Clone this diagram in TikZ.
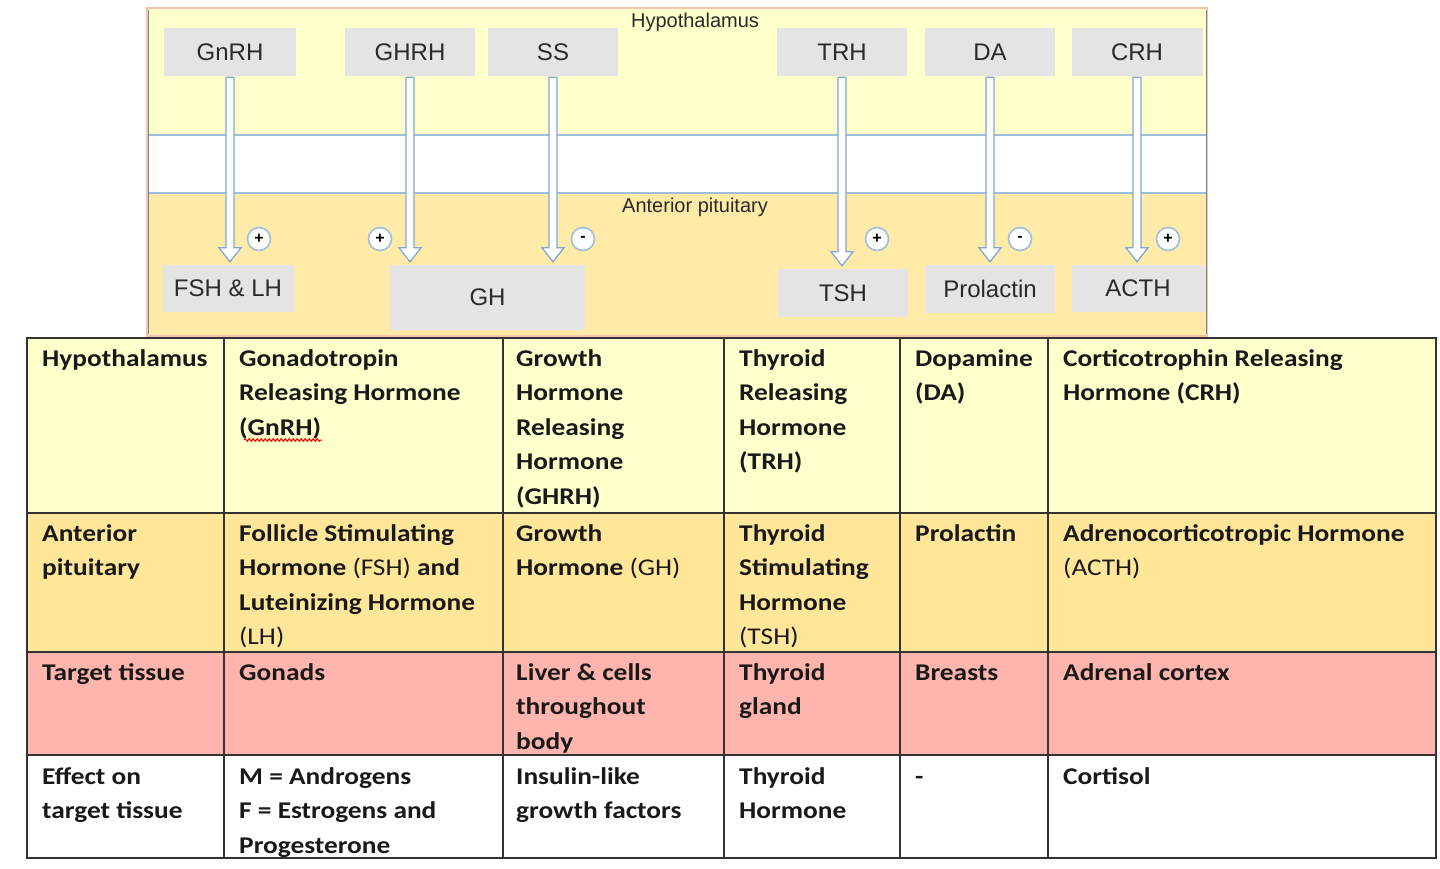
\documentclass[tikz,border=0pt]{standalone}
\usepackage{fontspec}
\setmainfont{Liberation Sans}
\newfontfamily\tabfont[FakeStretch=1.14]{Carlito}
\usetikzlibrary{calc,decorations.pathmorphing}
\definecolor{hyel}{HTML}{FFFFCC}
\definecolor{aorg}{HTML}{FFE699}
\definecolor{tpink}{HTML}{FFB5AE}
\definecolor{gboxc}{HTML}{E4E4E4}
\definecolor{sepblue}{HTML}{9DBEDC}
\definecolor{arrblue}{HTML}{7FA8D6}
\definecolor{framec}{HTML}{F3C4AE}
\definecolor{gtext}{HTML}{2A2A2A}
\definecolor{tline}{HTML}{333333}
\newcommand\cellv[1]{\vtop{\baselineskip=34.5pt\lineskiplimit=-20pt\halign{##\hfil\cr#1\crcr}}}
\newcommand\harr[2]{\draw[harrow] ($(#1.south)+(-4,1)$) -- ($(#1.south |- #2.north)+(-4,-17)$) -- ++(-7,0) -- ($(#1.south |- #2.north)+(0,-3)$) -- ($(#1.south |- #2.north)+(11,-17)$) -- ++(-7,0) -- ($(#1.south)+(4,1)$) -- cycle;}
\begin{document}
\begin{tikzpicture}[x=1pt,y=-1pt,
  gbox/.style={fill=gboxc, text=gtext, font=\fontsize{24}{28}\selectfont, inner sep=0pt},
  harrow/.style={fill=white, draw=arrblue, line width=1.3pt, line join=miter},
  sgn/.style={circle, draw=sepblue, line width=1.6pt, fill=white, minimum size=23pt, inner sep=0pt, font=\fontsize{16}{16}\selectfont\bfseries},
  lbl/.style={text=gtext, font=\fontsize{20}{24}\selectfont, inner sep=0pt},
  cell/.style={anchor=base west, inner sep=0pt, text=black!90, font=\tabfont\bfseries\fontsize{24}{34.5}\selectfont},
  tgrid/.style={draw=tline, line width=2.4pt}
]
\useasboundingbox (0,0) rectangle (1440,869);
\fill[white] (0,0) rectangle (1440,869);
% top diagram bands
\fill[hyel] (147,8) rectangle (1207,135);
\fill[white] (147,135) rectangle (1207,193);
\fill[aorg!85!white] (147,193) rectangle (1207,336);
\draw[sepblue, line width=1.5pt] (147,135) -- (1207,135) (147,193) -- (1207,193);
\draw[framec, line width=1.5pt] (147,8) rectangle (1207,336);
\draw[sepblue!70!black, line width=1pt] (148,10) -- (148,334) (1206,10) -- (1206,334);
\node[lbl] (thyp) at (695,22) {Hypothalamus};
\node[lbl] (tap) at (695,207) {Anterior pituitary};
% source boxes
\node[gbox, minimum width=132pt, minimum height=48pt] (gnrh) at (230,52) {GnRH};
\node[gbox, minimum width=130pt, minimum height=48pt] (ghrh) at (410,52) {GHRH};
\node[gbox, minimum width=130pt, minimum height=48pt] (ss) at (553,52) {SS};
\node[gbox, minimum width=130pt, minimum height=48pt] (trh) at (842,52) {TRH};
\node[gbox, minimum width=130pt, minimum height=48pt] (da) at (990,52) {DA};
\node[gbox, minimum width=131pt, minimum height=48pt] (crh) at (1137,52) {CRH};
% target boxes
\node[gbox, minimum width=131pt, minimum height=47pt] (fsh) at (228,288.5) {FSH \& LH};
\node[gbox, minimum width=195pt, minimum height=65pt] (gh) at (487.5,297.5) {GH};
\node[gbox, minimum width=130pt, minimum height=48pt] (tsh) at (843,293) {TSH};
\node[gbox, minimum width=130pt, minimum height=48pt] (prl) at (990,289) {Prolactin};
\node[gbox, minimum width=133pt, minimum height=47pt] (acth) at (1138,288.5) {ACTH};
% arrows
\harr{gnrh}{fsh}
\harr{ghrh}{gh}
\harr{ss}{gh}
\harr{trh}{tsh}
\harr{da}{prl}
\harr{crh}{acth}
% signs
\node[sgn] (s1) at (259,239) {+};
\node[sgn] (s2) at (380,239) {+};
\node[sgn] (s3) at (583,239) {-};
\node[sgn] (s4) at (877,239) {+};
\node[sgn] (s5) at (1020,239) {-};
\node[sgn] (s6) at (1168,239) {+};
% table fills
\fill[hyel] (27,338) rectangle (1436,513);
\fill[aorg] (27,513) rectangle (1436,652);
\fill[tpink] (27,652) rectangle (1436,755);
\fill[white] (27,755) rectangle (1436,858);
\draw[tgrid] (27,338) rectangle (1436,858);
\draw[tgrid] (27,513) -- (1436,513) (27,652) -- (1436,652) (27,755) -- (1436,755);
\draw[tgrid] (224,338) -- (224,858) (503,338) -- (503,858) (724,338) -- (724,858) (900,338) -- (900,858) (1048,338) -- (1048,858);
% row 1
\node[cell] (c11) at (42,366) {\cellv{Hypothalamus}};
\node[cell] (c12) at (239,366) {\cellv{Gonadotropin\cr Releasing Hormone\cr (GnRH)}};
\node[cell] (c13) at (516,366) {\cellv{Growth\cr Hormone\cr Releasing\cr Hormone\cr (GHRH)}};
\node[cell] (c14) at (739,366) {\cellv{Thyroid\cr Releasing\cr Hormone\cr (TRH)}};
\node[cell] (c15) at (915,366) {\cellv{Dopamine\cr (DA)}};
\node[cell] (c16) at (1063,366) {\cellv{Corticotrophin Releasing\cr Hormone (CRH)}};
\draw[red, line width=1pt, decorate, decoration={snake, amplitude=1.3pt, segment length=4pt}] ($(c12.base west)+(5,74)$) -- ++(78,0);
% row 2
\node[cell] (c21) at (42,541) {\cellv{Anterior\cr pituitary}};
\node[cell] (c22) at (239,541) {\cellv{Follicle Stimulating\cr Hormone {\mdseries (FSH)} and\cr Luteinizing Hormone\cr {\mdseries (LH)}}};
\node[cell] (c23) at (516,541) {\cellv{Growth\cr Hormone {\mdseries (GH)}}};
\node[cell] (c24) at (739,541) {\cellv{Thyroid\cr Stimulating\cr Hormone\cr {\mdseries (TSH)}}};
\node[cell] (c25) at (915,541) {\cellv{Prolactin}};
\node[cell] (c26) at (1063,541) {\cellv{Adrenocorticotropic Hormone\cr {\mdseries (ACTH)}}};
% row 3
\node[cell] (c31) at (42,680) {\cellv{Target tissue}};
\node[cell] (c32) at (239,680) {\cellv{Gonads}};
\node[cell] (c33) at (516,680) {\cellv{Liver \& cells\cr throughout\cr body}};
\node[cell] (c34) at (739,680) {\cellv{Thyroid\cr gland}};
\node[cell] (c35) at (915,680) {\cellv{Breasts}};
\node[cell] (c36) at (1063,680) {\cellv{Adrenal cortex}};
% row 4
\node[cell] (c41) at (42,784) {\cellv{Effect on\cr target tissue}};
\node[cell] (c42) at (239,784) {\cellv{M = Androgens\cr F = Estrogens and\cr Progesterone}};
\node[cell] (c43) at (516,784) {\cellv{Insulin-like\cr growth factors}};
\node[cell] (c44) at (739,784) {\cellv{Thyroid\cr Hormone}};
\node[cell] (c45) at (915,784) {\cellv{-}};
\node[cell] (c46) at (1063,784) {\cellv{Cortisol}};
\end{tikzpicture}
\end{document}
